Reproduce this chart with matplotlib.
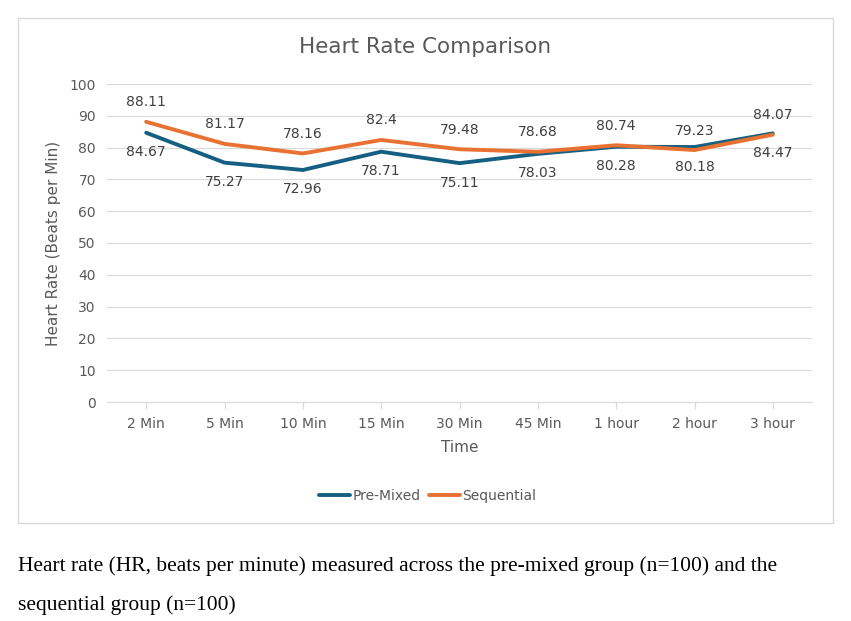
import matplotlib
matplotlib.use("Agg")
import matplotlib.pyplot as plt
from matplotlib.patches import Rectangle

times = ["2 Min", "5 Min", "10 Min", "15 Min", "30 Min", "45 Min", "1 hour", "2 hour", "3 hour"]
pre_mixed = [84.67, 75.27, 72.96, 78.71, 75.11, 78.03, 80.28, 80.18, 84.47]
sequential = [88.11, 81.17, 78.16, 82.4, 79.48, 78.68, 80.74, 79.23, 84.07]
pre_labels = ["84.67", "75.27", "72.96", "78.71", "75.11", "78.03", "80.28", "80.18", "84.47"]
seq_labels = ["88.11", "81.17", "78.16", "82.4", "79.48", "78.68", "80.74", "79.23", "84.07"]

W, H = 851, 621
fig = plt.figure(figsize=(W/100, H/100), dpi=100)
fig.patches.append(Rectangle((18/W, 1-523/H), (833-18)/W, (523-18)/H, transform=fig.transFigure,
                             fill=False, edgecolor="#D9D9D9", linewidth=1))
ax = fig.add_axes([107/W, 1-402/H, (812-107)/W, (402-84)/H])
gray = "#595959"
x = list(range(len(times)))
ax.plot(x, pre_mixed, color="#156082", lw=2.8, label="Pre-Mixed", solid_capstyle="round")
ax.plot(x, sequential, color="#E97132", lw=2.8, label="Sequential", solid_capstyle="round")
for i in x:
    ax.annotate(seq_labels[i], (i, sequential[i]), xytext=(0, 9), textcoords="offset points",
                ha="center", va="bottom", fontsize=10, color="#404040")
    ax.annotate(pre_labels[i], (i, pre_mixed[i]), xytext=(0, -9), textcoords="offset points",
                ha="center", va="top", fontsize=10, color="#404040")
ax.set_xlim(-0.5, len(times)-0.5)
ax.set_ylim(0, 100)
ax.set_yticks(range(0, 101, 10))
ax.set_xticks(x)
ax.set_xticklabels(times)
ax.tick_params(colors=gray, labelsize=10, length=0, pad=8)
ax.tick_params(axis="x", length=5, color="#D9D9D9", pad=6)
ax.grid(axis="y", color="#D9D9D9", lw=0.8)
ax.set_axisbelow(True)
for s in ["top", "right", "left"]:
    ax.spines[s].set_visible(False)
ax.spines["bottom"].set_color("#D9D9D9")
ax.set_xlabel("Time", fontsize=11, color=gray, labelpad=6)
ax.set_ylabel("Heart Rate (Beats per Min)", fontsize=11, color=gray, labelpad=6)
fig.text(425/W, 1-47/H, "Heart Rate Comparison", ha="center", va="center", fontsize=15.5, color=gray)
ax.legend(loc="center", bbox_to_anchor=(428/W, 1-496/H), bbox_transform=fig.transFigure, ncol=2,
          frameon=False, fontsize=10, labelcolor=gray, handlelength=2.2, columnspacing=0.6, handletextpad=0.2)
fig.text(18/W, 1-566/H, "Heart rate (HR, beats per minute) measured across the pre-mixed group (n=100) and the",
         family="Liberation Serif", fontsize=15.5, va="center", ha="left")
fig.text(18/W, 1-605/H, "sequential group (n=100)", family="Liberation Serif", fontsize=15.5, va="center", ha="left")
fig.savefig("out.png", dpi=100)
